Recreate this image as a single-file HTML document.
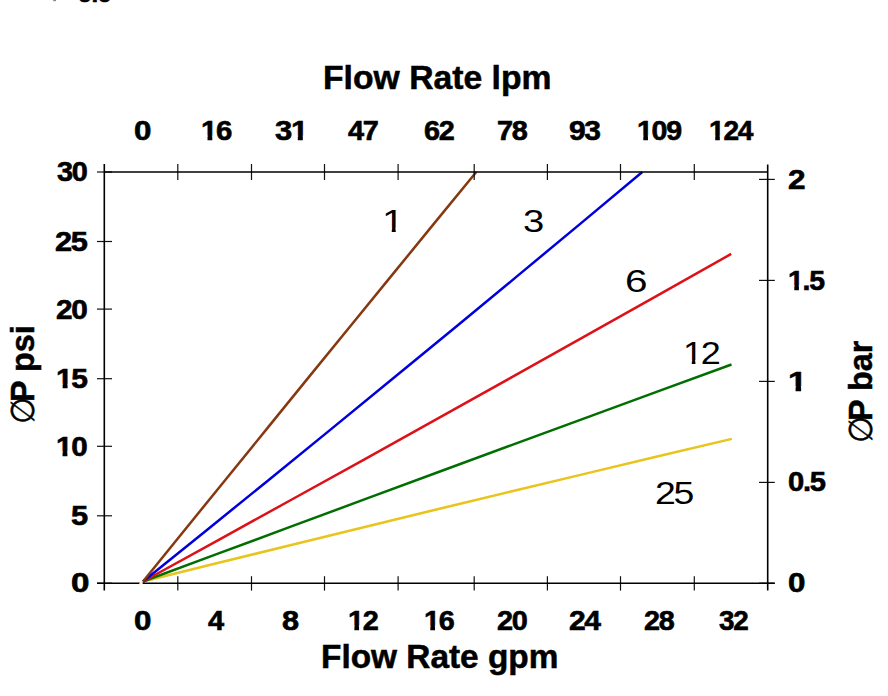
<!DOCTYPE html>
<html><head><meta charset="utf-8"><title>Flow Rate vs Pressure Drop</title>
<style>
html,body{margin:0;padding:0;background:#fff}
body{width:888px;height:696px;overflow:hidden;position:relative}
.t{position:absolute;font-family:"Liberation Sans",Arial,sans-serif;font-weight:400;line-height:1;white-space:pre;transform-origin:0 0;color:#000}
.b{font-weight:700}
.one{display:inline-block;letter-spacing:0;clip-path:polygon(0 0,100% 0,100% 66%,69% 66%,69% 100%,40% 100%,40% 66%,0 66%)}
.one.r{clip-path:polygon(0 0,100% 0,100% 70%,62% 70%,62% 100%,44% 100%,44% 70%,0 70%)}
.sym{font-family:"DejaVu Sans","Liberation Sans",sans-serif;font-weight:400}
</style></head><body>
<svg width="888" height="696" viewBox="0 0 888 696" style="position:absolute;left:0;top:0">
<polyline points="143.0,581.5 216.6,563.3 290.2,545.2 363.8,527.2 437.4,509.3 511.0,491.5 584.6,473.9 658.2,456.3 731.8,438.9" fill="none" stroke="#e8c41c" stroke-width="2.5" stroke-linejoin="round"/>
<polyline points="143.0,581.5 216.6,554.2 290.1,526.9 363.7,499.7 437.2,472.5 510.8,445.4 584.4,418.4 657.9,391.4 731.5,364.5" fill="none" stroke="#006e00" stroke-width="2.5" stroke-linejoin="round"/>
<polyline points="143.0,581.5 216.5,541.1 290.0,500.5 363.6,459.8 437.1,418.9 510.6,377.9 584.2,336.7 657.7,295.4 731.2,253.9" fill="none" stroke="#dc1218" stroke-width="2.5" stroke-linejoin="round"/>
<polyline points="143.0,581.5 205.4,531.2 267.8,480.7 330.2,429.9 392.6,378.8 455.1,327.5 517.5,275.9 579.9,224.1 642.3,172.0" fill="none" stroke="#0000dc" stroke-width="2.5" stroke-linejoin="round"/>
<polyline points="143.0,581.5 184.7,530.0 226.3,478.7 268.0,427.4 309.6,376.1 351.3,325.0 393.0,273.9 434.6,222.9 476.3,172.0" fill="none" stroke="#863810" stroke-width="2.5" stroke-linejoin="round"/>
<line x1="97" y1="172.0" x2="112" y2="172.0" stroke="#111" stroke-width="1.2" fill="none"/>
<line x1="97" y1="241.5" x2="112" y2="241.5" stroke="#111" stroke-width="1.2" fill="none"/>
<line x1="97" y1="309.1" x2="112" y2="309.1" stroke="#111" stroke-width="1.2" fill="none"/>
<line x1="97" y1="378.7" x2="112" y2="378.7" stroke="#111" stroke-width="1.2" fill="none"/>
<line x1="97" y1="446.3" x2="112" y2="446.3" stroke="#111" stroke-width="1.2" fill="none"/>
<line x1="97" y1="515.8" x2="112" y2="515.8" stroke="#111" stroke-width="1.2" fill="none"/>
<line x1="97" y1="583.2" x2="112" y2="583.2" stroke="#111" stroke-width="1.2" fill="none"/>
<line x1="759" y1="179.4" x2="774.8" y2="179.4" stroke="#111" stroke-width="1.2" fill="none"/>
<line x1="759" y1="280.4" x2="774.8" y2="280.4" stroke="#111" stroke-width="1.2" fill="none"/>
<line x1="759" y1="381.4" x2="774.8" y2="381.4" stroke="#111" stroke-width="1.2" fill="none"/>
<line x1="759" y1="482.4" x2="774.8" y2="482.4" stroke="#111" stroke-width="1.2" fill="none"/>
<line x1="759" y1="583.2" x2="774.8" y2="583.2" stroke="#111" stroke-width="1.2" fill="none"/>
<line x1="177.8" y1="164" x2="177.8" y2="180" stroke="#111" stroke-width="1.2" fill="none"/>
<line x1="177.8" y1="576.2" x2="177.8" y2="590.6" stroke="#111" stroke-width="1.2" fill="none"/>
<line x1="251.5" y1="164" x2="251.5" y2="180" stroke="#111" stroke-width="1.2" fill="none"/>
<line x1="251.5" y1="576.2" x2="251.5" y2="590.6" stroke="#111" stroke-width="1.2" fill="none"/>
<line x1="324.5" y1="164" x2="324.5" y2="180" stroke="#111" stroke-width="1.2" fill="none"/>
<line x1="324.5" y1="576.2" x2="324.5" y2="590.6" stroke="#111" stroke-width="1.2" fill="none"/>
<line x1="398.1" y1="164" x2="398.1" y2="180" stroke="#111" stroke-width="1.2" fill="none"/>
<line x1="398.1" y1="576.2" x2="398.1" y2="590.6" stroke="#111" stroke-width="1.2" fill="none"/>
<line x1="474.2" y1="164" x2="474.2" y2="180" stroke="#111" stroke-width="1.2" fill="none"/>
<line x1="474.2" y1="576.2" x2="474.2" y2="590.6" stroke="#111" stroke-width="1.2" fill="none"/>
<line x1="547.4" y1="164" x2="547.4" y2="180" stroke="#111" stroke-width="1.2" fill="none"/>
<line x1="547.4" y1="576.2" x2="547.4" y2="590.6" stroke="#111" stroke-width="1.2" fill="none"/>
<line x1="620.5" y1="164" x2="620.5" y2="180" stroke="#111" stroke-width="1.2" fill="none"/>
<line x1="620.5" y1="576.2" x2="620.5" y2="590.6" stroke="#111" stroke-width="1.2" fill="none"/>
<line x1="694.3" y1="164" x2="694.3" y2="180" stroke="#111" stroke-width="1.2" fill="none"/>
<line x1="694.3" y1="576.2" x2="694.3" y2="590.6" stroke="#111" stroke-width="1.2" fill="none"/>
<line x1="104.3" y1="164" x2="104.3" y2="590.4" stroke="#000" stroke-width="1.6" fill="none"/>
<line x1="767.7" y1="164.4" x2="767.7" y2="590.4" stroke="#000" stroke-width="1.6" fill="none"/>
<line x1="104.3" y1="172.0" x2="767.7" y2="172.0" stroke="#000" stroke-width="1.6" fill="none"/>
<line x1="97" y1="583.2" x2="774.8" y2="583.2" stroke="#000" stroke-width="1.6" fill="none"/>
<circle cx="141.0" cy="583.2" r="1.6" fill="#fff6c8"/>
<rect x="53.2" y="0" width="2.8" height="1.2" fill="#888"/>
</svg>
<span class="t b" style="left:134.33px;top:117.9px;font-size:26.8px;transform:scaleX(1.1692);-webkit-text-stroke:0.6px #000;">0</span>
<span class="t b" style="left:200.81px;top:117.9px;font-size:26.8px;transform:scaleX(1.0962);-webkit-text-stroke:0.6px #000;letter-spacing:-1.2px;"><span class="one" style="margin-right:-1.2px">1</span>6</span>
<span class="t b" style="left:274.6px;top:117.9px;font-size:26.8px;transform:scaleX(1.1583);-webkit-text-stroke:0.6px #000;letter-spacing:-1.2px;">3<span class="one">1</span></span>
<span class="t b" style="left:348.0px;top:117.9px;font-size:26.8px;transform:scaleX(1.0786);-webkit-text-stroke:0.6px #000;letter-spacing:-1.2px;">47</span>
<span class="t b" style="left:423.53px;top:117.9px;font-size:26.8px;transform:scaleX(1.0741);-webkit-text-stroke:0.6px #000;letter-spacing:-1.2px;">62</span>
<span class="t b" style="left:496.72px;top:117.9px;font-size:26.8px;transform:scaleX(1.0778);-webkit-text-stroke:0.6px #000;letter-spacing:-1.2px;">78</span>
<span class="t b" style="left:569.08px;top:117.9px;font-size:26.8px;transform:scaleX(1.1185);-webkit-text-stroke:0.6px #000;letter-spacing:-1.2px;">93</span>
<span class="t b" style="left:636.77px;top:117.9px;font-size:26.8px;transform:scaleX(1.065);-webkit-text-stroke:0.6px #000;letter-spacing:-1.2px;"><span class="one" style="margin-right:-1.2px">1</span>09</span>
<span class="t b" style="left:708.9px;top:117.9px;font-size:26.8px;transform:scaleX(1.0488);-webkit-text-stroke:0.6px #000;letter-spacing:-1.2px;"><span class="one" style="margin-right:-1.2px">1</span>24</span>
<span class="t b" style="left:134.33px;top:607.95px;font-size:26.8px;transform:scaleX(1.1692);-webkit-text-stroke:0.6px #000;">0</span>
<span class="t b" style="left:208.4px;top:607.95px;font-size:26.8px;transform:scaleX(1.08);-webkit-text-stroke:0.6px #000;">4</span>
<span class="t b" style="left:281.65px;top:607.95px;font-size:26.8px;transform:scaleX(1.1462);-webkit-text-stroke:0.6px #000;">8</span>
<span class="t b" style="left:348.05px;top:607.95px;font-size:26.8px;transform:scaleX(1.0769);-webkit-text-stroke:0.6px #000;letter-spacing:-1.2px;"><span class="one" style="margin-right:-1.2px">1</span>2</span>
<span class="t b" style="left:423.55px;top:607.95px;font-size:26.8px;transform:scaleX(1.0731);-webkit-text-stroke:0.6px #000;letter-spacing:-1.2px;"><span class="one" style="margin-right:-1.2px">1</span>6</span>
<span class="t b" style="left:496.72px;top:607.95px;font-size:26.8px;transform:scaleX(1.0778);-webkit-text-stroke:0.6px #000;letter-spacing:-1.2px;">20</span>
<span class="t b" style="left:569.08px;top:607.95px;font-size:26.8px;transform:scaleX(1.1214);-webkit-text-stroke:0.6px #000;letter-spacing:-1.2px;">24</span>
<span class="t b" style="left:643.53px;top:607.95px;font-size:26.8px;transform:scaleX(1.0741);-webkit-text-stroke:0.6px #000;letter-spacing:-1.2px;">28</span>
<span class="t b" style="left:718.9px;top:607.95px;font-size:26.8px;transform:scaleX(1.0393);-webkit-text-stroke:0.6px #000;letter-spacing:-1.2px;">32</span>
<span class="t b" style="left:56.9px;top:158.6px;font-size:26.8px;transform:scaleX(1.0786);-webkit-text-stroke:0.6px #000;letter-spacing:-1.2px;">30</span>
<span class="t b" style="left:55.45px;top:228.65px;font-size:26.8px;transform:scaleX(1.1481);-webkit-text-stroke:0.6px #000;letter-spacing:-1.2px;">25</span>
<span class="t b" style="left:55.59px;top:296.5px;font-size:26.8px;transform:scaleX(1.1111);-webkit-text-stroke:0.6px #000;letter-spacing:-1.2px;">20</span>
<span class="t b" style="left:56.16px;top:366.1px;font-size:26.8px;transform:scaleX(1.1192);-webkit-text-stroke:0.6px #000;letter-spacing:-1.2px;"><span class="one" style="margin-right:-1.2px">1</span>5</span>
<span class="t b" style="left:56.19px;top:433.8px;font-size:26.8px;transform:scaleX(1.1038);-webkit-text-stroke:0.6px #000;letter-spacing:-1.2px;"><span class="one" style="margin-right:-1.2px">1</span>0</span>
<span class="t b" style="left:70.75px;top:503.05px;font-size:26.8px;transform:scaleX(1.15);-webkit-text-stroke:0.6px #000;">5</span>
<span class="t b" style="left:70.66px;top:570.25px;font-size:26.8px;transform:scaleX(1.2385);-webkit-text-stroke:0.6px #000;">0</span>
<span class="t b" style="left:787.72px;top:166.5px;font-size:26.8px;transform:scaleX(1.1769);-webkit-text-stroke:0.6px #000;">2</span>
<span class="t b" style="left:788.08px;top:267.55px;font-size:26.8px;transform:scaleX(1.0606);-webkit-text-stroke:0.6px #000;letter-spacing:-1.2px;"><span class="one" style="margin-right:-1.2px">1</span>.5</span>
<span class="t b" style="left:787.65px;top:368.55px;font-size:26.8px;transform:scaleX(1.275);-webkit-text-stroke:0.6px #000;"><span class="one">1</span></span>
<span class="t b" style="left:787.81px;top:468.75px;font-size:26.8px;transform:scaleX(1.0882);-webkit-text-stroke:0.6px #000;letter-spacing:-1.2px;">0.5</span>
<span class="t b" style="left:787.73px;top:570.25px;font-size:26.8px;transform:scaleX(1.1692);-webkit-text-stroke:0.6px #000;">0</span>
<span class="t" style="left:381.78px;top:205.8px;font-size:31.2px;transform:scaleX(1.275);"><span class="one r">1</span></span>
<span class="t" style="left:523.37px;top:206.0px;font-size:31.2px;transform:scaleX(1.2267);">3</span>
<span class="t" style="left:624.9px;top:265.65px;font-size:31.2px;transform:scaleX(1.3);">6</span>
<span class="t" style="left:683.24px;top:338.25px;font-size:31.2px;transform:scaleX(1.1536);letter-spacing:-2.0px;"><span class="one r" style="margin-right:-2.0px">1</span>2</span>
<span class="t" style="left:654.6px;top:478.15px;font-size:31.2px;transform:scaleX(1.2);letter-spacing:-2.0px;">25</span>
<span class="t b" style="left:78.1px;top:-19.6px;font-size:26.8px;transform:scaleX(0.9);-webkit-text-stroke:0.6px #000;">3.5</span>
<span class="t b" style="left:323.13px;top:61.8px;font-size:32.5px;transform:scaleX(1.0373);-webkit-text-stroke:0.5px #000;">Flow Rate lpm</span>
<span class="t b" style="left:320.95px;top:640.8px;font-size:32.5px;transform:scaleX(1.0272);-webkit-text-stroke:0.5px #000;">Flow Rate gpm</span>
<span class="t sym" style="left:6.1px;top:423.56px;font-size:33px;transform:rotate(-90deg) scaleX(0.932);-webkit-text-stroke:0.5px #000;">∅</span>
<span class="t b" style="left:6.7px;top:401.69px;font-size:32.5px;transform:rotate(-90deg) scaleX(0.9973);-webkit-text-stroke:0.5px #000;">P psi</span>
<span class="t sym" style="left:843.7px;top:442.76px;font-size:33px;transform:rotate(-90deg) scaleX(0.932);-webkit-text-stroke:0.5px #000;">∅</span>
<span class="t b" style="left:844.55px;top:420.89px;font-size:32.5px;transform:rotate(-90deg) scaleX(0.9962);-webkit-text-stroke:0.5px #000;">P bar</span>

</body></html>
